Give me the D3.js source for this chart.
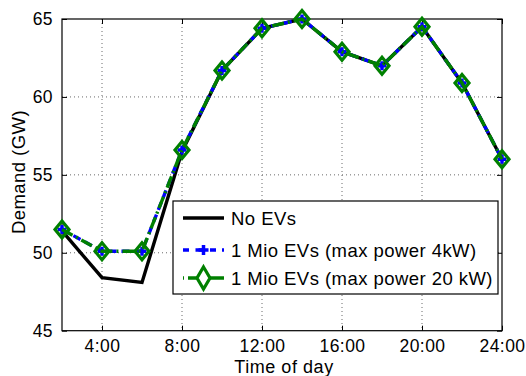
<!DOCTYPE html>
<html><head><meta charset="utf-8">
<script src="https://cdn.jsdelivr.net/npm/d3@7"></script>
<style>body{margin:0;background:#fff}svg{display:block}text{font-family:"Liberation Sans",Arial,Helvetica,sans-serif}</style>
</head><body><svg id="chart" width="526" height="376"></svg>
<script>
const hours = [2,4,6,8,10,12,14,16,18,20,22,24];
const noEVs = [51.4,48.4,48.1,56.5,61.7,64.4,65.0,62.9,62.0,64.5,60.9,56.0];
const evs4kW = [51.5,50.1,50.1,56.6,61.7,64.4,65.0,62.9,62.0,64.5,60.9,56.0];
const evs20kW = [51.5,50.1,50.1,56.6,61.7,64.4,65.0,62.9,62.0,64.5,60.9,56.0];
const xTicks = [4,8,12,16,20,24];
const xTickLabels = ["4:00","8:00","12:00","16:00","20:00","24:00"];
const yTicks = [45,50,55,60,65];
const seriesNames = ["No EVs","1 Mio EVs (max power 4kW)","1 Mio EVs (max power 20 kW)"];

const svg = d3.select("#chart");
const L = 62, R = 502, T = 19, B = 330.7;
const x = d3.scaleLinear().domain([2,24]).range([L,R]);
const y = d3.scaleLinear().domain([45,65]).range([B,T]);

// dotted grid
const g = svg.append("g");
g.selectAll(".gx").data(xTicks.filter(d=>d<24)).join("line")
  .attr("x1",d=>x(d)).attr("x2",d=>x(d)).attr("y1",T).attr("y2",B)
  .attr("stroke","#444").attr("stroke-width",0.8).attr("stroke-dasharray","1,3");
g.selectAll(".gy").data(yTicks.filter(d=>d>45&&d<65)).join("line")
  .attr("x1",L).attr("x2",R).attr("y1",d=>y(d)).attr("y2",d=>y(d))
  .attr("stroke","#444").attr("stroke-width",0.8).attr("stroke-dasharray","1,3");

// axes with inward ticks and a full box
const ax = svg.append("g");
ax.append("g").attr("transform",`translate(0,${B})`)
  .call(d3.axisBottom(x).tickValues(xTicks).tickFormat((d,i)=>xTickLabels[i]).tickSizeInner(-5).tickSizeOuter(0).tickPadding(9));
ax.append("g").attr("transform",`translate(${L},0)`)
  .call(d3.axisLeft(y).tickValues(yTicks).tickSizeInner(-5).tickSizeOuter(0).tickPadding(9));
ax.append("g").attr("transform",`translate(0,${T})`)
  .call(d3.axisTop(x).tickValues(xTicks).tickFormat("").tickSizeInner(-5).tickSizeOuter(0));
ax.append("g").attr("transform",`translate(${R},0)`)
  .call(d3.axisRight(y).tickValues(yTicks).tickFormat("").tickSizeInner(-5).tickSizeOuter(0));
ax.selectAll(".domain").remove();
ax.selectAll("text").attr("fill","#000").attr("font-family","Liberation Sans, Arial, sans-serif")
  .attr("font-size",17.5).attr("letter-spacing",0.45);
ax.selectAll("line").attr("stroke","#000");
svg.append("rect").attr("x",L).attr("y",T).attr("width",R-L).attr("height",B-T)
  .attr("fill","none").attr("stroke","#000").attr("stroke-width",1.2);

// axis titles
svg.append("text").attr("x",284).attr("y",372.5).attr("text-anchor","middle")
  .attr("font-size",18).attr("letter-spacing",0.55).text("Time of day");
svg.append("text").attr("transform","translate(25,172) rotate(-90)").attr("text-anchor","middle")
  .attr("font-size",18.5).attr("letter-spacing",0.45).text("Demand (GW)");

// series
const line = vals => d3.line().x((d,i)=>x(hours[i])).y(d=>y(d))(vals);
const plus = (cx,cy,s)=>`M${cx-s},${cy}H${cx+s}M${cx},${cy-s}V${cy+s}`;
const diamond = (cx,cy,w,h)=>`M${cx},${cy-h}L${cx+w},${cy}L${cx},${cy+h}L${cx-w},${cy}Z`;
const plot = svg.append("g");
plot.append("path").attr("d",line(noEVs)).attr("fill","none").attr("stroke","#000").attr("stroke-width",3.4);
plot.append("path").attr("d",line(evs4kW)).attr("fill","none").attr("stroke","#0000ff").attr("stroke-width",3.4).attr("stroke-dasharray","8,5");
plot.selectAll(".p4").data(evs4kW).join("path").attr("d",(d,i)=>plus(x(hours[i]),y(d),4.5))
  .attr("stroke","#0000ff").attr("stroke-width",3.5);
plot.append("path").attr("d",line(evs20kW)).attr("fill","none").attr("stroke","#008000").attr("stroke-width",3.4).attr("stroke-dasharray","12,4,2,4");
plot.selectAll(".d20").data(evs20kW).join("path").attr("d",(d,i)=>diamond(x(hours[i]),y(d),7,8.5))
  .attr("fill","none").attr("stroke","#008000").attr("stroke-width",3.2);

// legend
const lg = svg.append("g");
lg.append("rect").attr("x",173).attr("y",201).attr("width",325).attr("height",93).attr("fill","#fff").attr("stroke","#000").attr("stroke-width",1.2);
const rows = [218,250,278];
lg.append("line").attr("x1",183).attr("x2",224).attr("y1",rows[0]).attr("y2",rows[0]).attr("stroke","#000").attr("stroke-width",3.4);
lg.append("line").attr("x1",183).attr("x2",224).attr("y1",rows[1]).attr("y2",rows[1]).attr("stroke","#0000ff").attr("stroke-width",3.4).attr("stroke-dasharray","6,6.5,8,6.5,6");
lg.append("path").attr("d",plus(203.5,rows[1],5)).attr("stroke","#0000ff").attr("stroke-width",3.5);
lg.append("line").attr("x1",183).attr("x2",224).attr("y1",rows[2]).attr("y2",rows[2]).attr("stroke","#008000").attr("stroke-width",3.4).attr("stroke-dasharray","1,4,36,4,1");
lg.append("path").attr("d",diamond(203.5,rows[2],6.5,11)).attr("fill","#fff").attr("stroke","#008000").attr("stroke-width",3.2);
lg.selectAll(".lt").data(seriesNames).join("text").attr("x",231).attr("y",(d,i)=>rows[i]+6.5)
  .attr("font-size",18.5).attr("letter-spacing",0.45).text(d=>d);
</script></body></html>
